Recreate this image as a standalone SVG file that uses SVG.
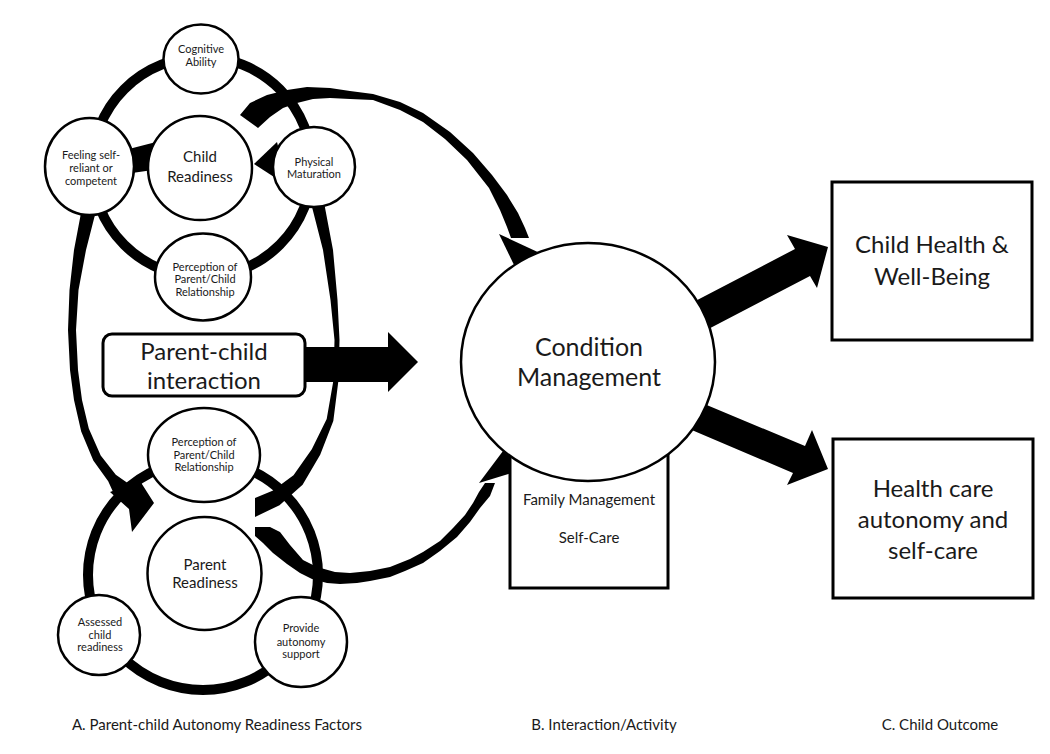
<svg xmlns="http://www.w3.org/2000/svg" width="1050" height="754" viewBox="0 0 1050 754">
<style>
.n{fill:#fff;stroke:#000;stroke-width:2.5}
.b{fill:#fff;stroke:#000;stroke-width:3}
.ring{fill:none;stroke:#000;stroke-width:10}
.k{fill:#000;stroke:none}
.t{font-family:Lato,"Open Sans","Liberation Sans",sans-serif;fill:#1a1a1a;text-anchor:middle}
.s{font-size:11px}
.m{font-size:15px}
.l{font-size:24px}
.f{font-size:15px}
</style>
<rect width="1050" height="754" fill="#fff"/>
<g id="connectors">
  <circle class="ring" cx="202" cy="167" r="110"/>
  <circle class="ring" cx="203" cy="575" r="115"/>
  <polygon class="k" points="82.5,205 74,250 69.5,290 68,330 70,370 74,400 81.2,431.4 93.3,460.5 108.2,481.3 114,494 129,484 115.8,474.7 100.7,455.5 88.8,428.6 82,400 78,370 76,330 78.5,290 86,250 97.5,205"/>
  <polygon class="k" points="110,492 140,481 154,503 132,532 129,509"/>
  <polygon class="k" points="311.5,205 323,250 330.5,300 334.5,340 333.5,380 326.7,419 311.8,449.2 293.5,475.3 272.5,490.8 255,498 255,517 279.5,505.2 302.6,484.7 320.2,454.8 333.3,421 338.5,380 339.5,340 337.5,300 333,250 324.5,205"/>
  <polygon class="k" points="125,150 160,141 160,169 125,174"/>
  <polygon class="k" points="254,164 277,142 288,186"/>
  <polygon class="k" points="240,115 250,103 267,95 287,90 307,87 330,88 350,91 373,94 400,102 423,113 450,132 473,153 492,175 507,195 518,213 525,228 529,238 511,238 507,227 500,210 489,188 467,160 445,139 423,122 400,110 373,100 350,99 330,98 313,99 297,103 283,108 270,117 258,128"/>
  <polygon class="k" points="499,234 542,254 515,267"/>
  <polygon class="k" points="255,527 270,527 280,532 290,545 303,560 317,567 335,572 350,573 370,571 390,567 410,559 423,552 440,541 453,528 465,515 473,503 479,492 485,483 495,483 490,496 480,508 470,522 457,537 440,551 423,563 405,571 390,577 370,581 357,583 340,584 327,583 312,579 300,573 287,564 273,553 263,543 255,536"/>
  <polygon class="k" points="479,483 525,469 503,451"/>
  <polygon class="k" points="290,347 388,347 388,332 418,362 388,392 388,382 290,382"/>
  <polygon class="k" points="680,309 795,249 787,235 828,247 817,288 810,276 695,336"/>
  <polygon class="k" points="690,398 805,446 812,430 828,469 787,485 793,473 680,425"/>
</g>
<g id="cognitive-ability">
  <ellipse class="n" cx="201" cy="59" rx="37.5" ry="34.5"/>
  <text class="t s" x="201" y="53">Cognitive</text>
  <text class="t s" x="201" y="66">Ability</text>
</g>
<g id="feeling-self-reliant">
  <ellipse class="n" cx="89.5" cy="166.5" rx="44.5" ry="48.5"/>
  <text class="t s" x="91" y="158.5">Feeling self-</text>
  <text class="t s" x="91" y="171.5">reliant or</text>
  <text class="t s" x="91" y="184.5">competent</text>
</g>
<g id="child-readiness">
  <circle class="n" cx="200" cy="168" r="52"/>
  <text class="t m" x="200" y="162">Child</text>
  <text class="t m" x="200" y="182">Readiness</text>
</g>
<g id="physical-maturation">
  <ellipse class="n" cx="314" cy="167" rx="41" ry="40"/>
  <text class="t s" x="314" y="165.5">Physical</text>
  <text class="t s" x="314" y="177.5">Maturation</text>
</g>
<g id="perception-child">
  <ellipse class="n" cx="203" cy="277" rx="48" ry="43.5"/>
  <text class="t s" x="205" y="270.5">Perception of</text>
  <text class="t s" x="205" y="283">Parent/Child</text>
  <text class="t s" x="205" y="296">Relationship</text>
</g>
<g id="parent-child-interaction">
  <rect class="b" x="103" y="334" width="202" height="62" rx="9"/>
  <text class="t l" x="204" y="360">Parent-child</text>
  <text class="t l" x="204" y="389">interaction</text>
</g>
<g id="perception-parent">
  <ellipse class="n" cx="204" cy="455" rx="56" ry="47"/>
  <text class="t s" x="204" y="445.5">Perception of</text>
  <text class="t s" x="204" y="458.5">Parent/Child</text>
  <text class="t s" x="204" y="471">Relationship</text>
</g>
<g id="parent-readiness">
  <ellipse class="n" cx="204.5" cy="573.5" rx="57" ry="56.5"/>
  <text class="t m" x="205" y="570">Parent</text>
  <text class="t m" x="205" y="588">Readiness</text>
</g>
<g id="assessed-child-readiness">
  <ellipse class="n" cx="99" cy="635" rx="41" ry="40"/>
  <text class="t s" x="100" y="625.5">Assessed</text>
  <text class="t s" x="100" y="638.5">child</text>
  <text class="t s" x="100" y="651">readiness</text>
</g>
<g id="provide-autonomy-support">
  <ellipse class="n" cx="301" cy="642" rx="46" ry="45"/>
  <text class="t s" x="301" y="631.5">Provide</text>
  <text class="t s" x="301" y="645.5">autonomy</text>
  <text class="t s" x="301" y="658">support</text>
</g>
<g id="family-management">
  <rect class="b" x="510" y="440" width="158" height="148"/>
  <text class="t f" x="589" y="505">Family Management</text>
  <text class="t f" x="589" y="543">Self-Care</text>
</g>
<g id="condition-management">
  <ellipse class="n" cx="588" cy="362" rx="127" ry="119"/>
  <text class="t" font-size="25" x="589" y="356">Condition</text>
  <text class="t" font-size="25" x="589" y="386">Management</text>
</g>
<g id="child-health">
  <rect class="b" x="832" y="182" width="200" height="158"/>
  <text class="t l" x="932" y="253">Child Health &amp;</text>
  <text class="t l" x="932" y="285">Well-Being</text>
</g>
<g id="health-care-autonomy">
  <rect class="b" x="833" y="439" width="200" height="159"/>
  <text class="t l" x="933" y="497">Health care</text>
  <text class="t l" x="933" y="528">autonomy and</text>
  <text class="t l" x="933" y="559">self-care</text>
</g>
<g id="labels">
  <text class="t f" x="217" y="730">A. Parent-child Autonomy Readiness Factors</text>
  <text class="t f" x="604" y="730">B. Interaction/Activity</text>
  <text class="t f" x="940" y="730">C. Child Outcome</text>
</g>
</svg>
